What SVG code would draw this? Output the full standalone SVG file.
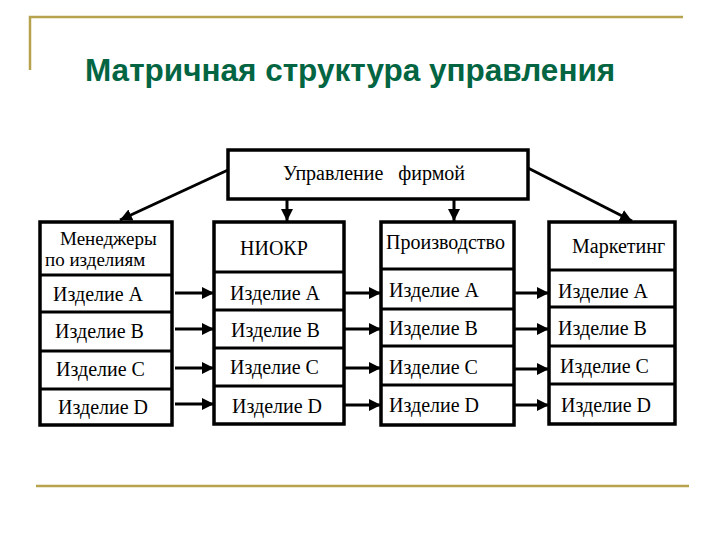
<svg xmlns="http://www.w3.org/2000/svg" width="720" height="540" viewBox="0 0 720 540">
<defs>
<marker id="ah" viewBox="0 0 10 10" refX="10" refY="5" markerWidth="4" markerHeight="4" orient="auto" markerUnits="strokeWidth">
<path d="M0,0 L10,5 L0,10 z" fill="#000"/>
</marker>
<style>
.box{fill:#fff;stroke:#000;stroke-width:3.5}
.div{stroke:#000;stroke-width:3}
.t{font-family:"Liberation Serif","Times New Roman",serif;font-size:20px;fill:#000}
.c{stroke:#000;stroke-width:3;fill:none;marker-end:url(#ah)}
.gold{stroke:#B7A24E;stroke-width:2.5;fill:none}
</style>
</defs>
<rect width="720" height="540" fill="#fff"/>
<g id="frame">
<path class="gold" d="M30,70 V17 H683"/>
<path class="gold" d="M36,486 H689"/>
</g>
<text x="85" y="81" font-family="Liberation Sans,Arial,sans-serif" font-weight="bold" font-size="31.5" fill="#036542">Матричная структура управления</text>

<g id="top">
<rect class="box" x="228" y="150" width="300" height="49"/>
<text class="t" x="283" y="180" style="white-space:pre">Управление   фирмой</text>
</g>

<g id="col1">
<rect class="box" x="40" y="222" width="132" height="203"/>
<line class="div" x1="40" y1="275" x2="172" y2="275"/>
<line class="div" x1="40" y1="312" x2="172" y2="312"/>
<line class="div" x1="40" y1="351" x2="172" y2="351"/>
<line class="div" x1="40" y1="389" x2="172" y2="389"/>
<text class="t" x="60" y="245" font-size="19" style="font-size:19px">Менеджеры</text>
<text class="t" x="45" y="266" style="font-size:19px">по изделиям</text>
<text class="t" x="53" y="301">Изделие A</text>
<text class="t" x="55" y="338">Изделие B</text>
<text class="t" x="56" y="376">Изделие C</text>
<text class="t" x="58" y="414">Изделие D</text>
</g>

<g id="col2">
<rect class="box" x="214" y="222" width="130" height="202"/>
<line class="div" x1="214" y1="272" x2="344" y2="272"/>
<line class="div" x1="214" y1="310" x2="344" y2="310"/>
<line class="div" x1="214" y1="348" x2="344" y2="348"/>
<line class="div" x1="214" y1="386" x2="344" y2="386"/>
<text class="t" x="240" y="255">НИОКР</text>
<text class="t" x="230" y="300">Изделие A</text>
<text class="t" x="231" y="337">Изделие B</text>
<text class="t" x="230" y="374">Изделие C</text>
<text class="t" x="232" y="413">Изделие D</text>
</g>

<g id="col3">
<rect class="box" x="381" y="222" width="133" height="203"/>
<line class="div" x1="381" y1="269" x2="514" y2="269"/>
<line class="div" x1="381" y1="309" x2="514" y2="309"/>
<line class="div" x1="381" y1="346" x2="514" y2="346"/>
<line class="div" x1="381" y1="385" x2="514" y2="385"/>
<text class="t" x="386" y="249">Производство</text>
<text class="t" x="389" y="297">Изделие A</text>
<text class="t" x="389" y="335">Изделие B</text>
<text class="t" x="389" y="374">Изделие C</text>
<text class="t" x="389" y="412">Изделие D</text>
</g>

<g id="col4">
<rect class="box" x="549" y="222" width="126" height="202"/>
<line class="div" x1="549" y1="270" x2="675" y2="270"/>
<line class="div" x1="549" y1="307" x2="675" y2="307"/>
<line class="div" x1="549" y1="346" x2="675" y2="346"/>
<line class="div" x1="549" y1="384" x2="675" y2="384"/>
<text class="t" x="572" y="253">Маркетинг</text>
<text class="t" x="558" y="298">Изделие A</text>
<text class="t" x="558" y="335">Изделие B</text>
<text class="t" x="560" y="373">Изделие C</text>
<text class="t" x="561" y="412">Изделие D</text>
</g>

<g id="connectors">
<line class="c" x1="228" y1="170" x2="120" y2="220"/>
<line class="c" x1="528" y1="168" x2="632" y2="221"/>
<line class="c" x1="287" y1="199" x2="287" y2="221"/>
<line class="c" x1="454" y1="199" x2="454" y2="221"/>
<line class="c" x1="175" y1="293" x2="214" y2="293"/>
<line class="c" x1="175" y1="329" x2="214" y2="329"/>
<line class="c" x1="175" y1="368" x2="214" y2="368"/>
<line class="c" x1="175" y1="404" x2="214" y2="404"/>
<line class="c" x1="345" y1="293" x2="381" y2="293"/>
<line class="c" x1="345" y1="329" x2="381" y2="329"/>
<line class="c" x1="345" y1="368" x2="381" y2="368"/>
<line class="c" x1="345" y1="405" x2="381" y2="405"/>
<line class="c" x1="514" y1="293" x2="549" y2="293"/>
<line class="c" x1="514" y1="329" x2="549" y2="329"/>
<line class="c" x1="514" y1="369" x2="549" y2="369"/>
<line class="c" x1="514" y1="405" x2="549" y2="405"/>
</g>
</svg>
